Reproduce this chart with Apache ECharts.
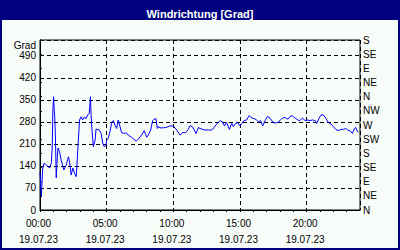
<!DOCTYPE html>
<html>
<head>
<meta charset="utf-8">
<script src="https://cdn.jsdelivr.net/npm/echarts@6/dist/echarts.min.js"></script>
<style>
html,body{margin:0;padding:0;background:#f8fcf8;}
#chart{width:400px;height:250px;}
</style>
</head>
<body>
<div id="chart"></div>
<script>
// minutes since 00:00 on 19.07.23
const times = [0,6,12,18,25,36,43,51,55,58,61,64,66,69,73,78,81,88,95,107,118,128,133,140,148,155,163,170,178,185,192,200,207,215,222,227,230,234,240,248,252,267,275,282,289,
297,300,307,315,322,330,337,345,352,360,367,375,390,397,412,427,435,442,457,469,480,487,498,507,514,522,528,532,540,555,570,585,600,615,630,642,656,667,675,685,694,
702,713,720,732,743,758,773,783,795,810,821,830,840,852,863,870,878,888,900,908,918,930,941,950,960,972,983,993,1002,1013,1023,1035,1047,1058,
1070,1080,1091,1103,1115,1125,1136,1148,1160,1170,1181,1193,1203,1215,1226,1238,1245,1256,1265,1275,1286,1298,1310,1320,1331,1343,1355,1365,1376,1385,1395,1406,1415,1421,1425,1433];
const windDir = [120,44,130,148,145,138,133,150,200,318,360,318,300,244,102,170,197,185,159,127,143,169,153,111,133,117,106,190,286,296,286,296,290,302,308,360,300,254,201,222,257,254,244,213,201,
205,222,228,249,275,284,270,259,286,265,246,244,244,238,231,222,220,225,238,252,231,238,254,284,289,290,259,265,261,261,263,267,267,254,238,246,246,256,268,265,254,
243,262,259,256,254,254,254,262,273,284,280,267,278,256,275,265,273,278,267,275,284,286,300,294,291,288,280,284,267,284,297,292,280,276,
278,284,292,294,288,297,299,292,286,284,292,284,286,284,286,284,275,292,302,302,292,278,273,265,256,252,256,256,259,254,252,243,259,262,254,246];
const compassLabels = ['N','NE','E','SE','S','SW','W','NW'];
const dateLabel = '19.07.23';
const titleText = 'Windrichtung [Grad]';
const unitLabel = 'Grad';

const data = times.map((t, i) => [t, windDir[i]]);
const pad = n => (n < 10 ? '0' : '') + n;
const FONT = 'Liberation Sans';

const chart = echarts.init(document.getElementById('chart'), null, {renderer: 'svg'});
chart.setOption({
  animation: false,
  backgroundColor: '#f8fcf8',
  textStyle: {fontFamily: FONT},
  title: {
    text: titleText, left: 'center', top: 3,
    textStyle: {color: '#ffffff', fontSize: 11, fontWeight: 'bold', fontFamily: FONT}
  },
  graphic: [
    {type: 'rect', z: -1, shape: {x: 0, y: 0, width: 400, height: 20}, style: {fill: '#000080'}},
    {type: 'rect', z: -1, shape: {x: 1, y: 1, width: 398, height: 248}, style: {fill: null, stroke: '#000080', lineWidth: 2}}
  ],
  grid: {left: 40, right: 40, top: 40, bottom: 40, show: true, borderColor: '#000', borderWidth: 1, backgroundColor: 'transparent'},
  xAxis: [{
    type: 'value', min: 0, max: 1440, interval: 60,
    axisLine: {lineStyle: {color: '#000', width: 1}},
    axisTick: {show: true, length: 2, lineStyle: {color: '#000'}},
    splitLine: {show: false},
    axisLabel: {
      color: '#000', fontSize: 10, lineHeight: 16, margin: 5, padding: [0, 3, 0, 0],
      showMaxLabel: false,
      formatter: v => (v % 300 === 0 ? pad(Math.floor(v / 60)) + ':' + pad(v % 60) + '\n' + dateLabel : '')
    }
  }, {
    type: 'value', min: 0, max: 1440, interval: 300, position: 'bottom',
    axisLine: {show: false}, axisTick: {show: false}, axisLabel: {show: false},
    splitLine: {show: true, lineStyle: {color: '#000', type: [4, 3], width: 1}}
  }],
  yAxis: [{
    type: 'value', min: 0, max: 540, interval: 70, position: 'left',
    name: unitLabel, nameLocation: 'end', nameGap: -5,
    nameTextStyle: {color: '#000', fontSize: 10, align: 'right', verticalAlign: 'middle', padding: [0, 4, 0, 0]},
    axisLine: {show: true, lineStyle: {color: '#000'}},
    axisTick: {show: false},
    axisLabel: {color: '#000', fontSize: 10, margin: 4, showMaxLabel: false},
    splitLine: {show: true, lineStyle: {color: '#000', type: [4, 3], width: 1}}
  }, {
    type: 'value', min: 0, max: 540, interval: 45, position: 'right',
    axisLine: {show: true, lineStyle: {color: '#000'}},
    axisTick: {show: true, length: 2, lineStyle: {color: '#000'}},
    axisLabel: {color: '#000', fontSize: 10, margin: 3, formatter: v => compassLabels[Math.round(v / 45) % 8]},
    splitLine: {show: false}
  }],
  series: [{
    type: 'line', data: data, xAxisIndex: 0, yAxisIndex: 0,
    showSymbol: false, symbol: 'none', smooth: false,
    lineStyle: {color: '#0000ff', width: 1}, itemStyle: {color: '#0000ff'}
  }]
});
</script>
</body>
</html>
